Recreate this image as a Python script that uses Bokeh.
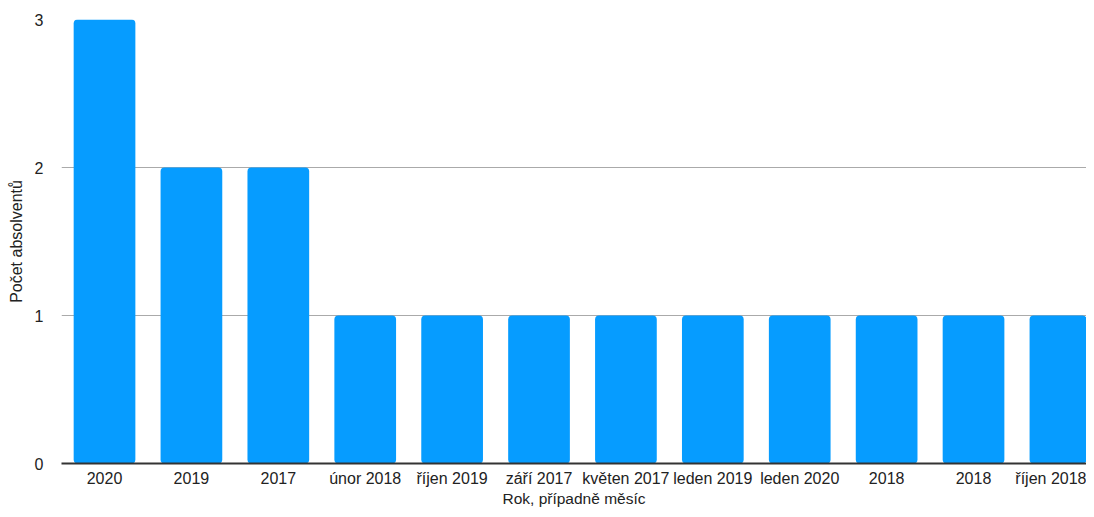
from bokeh.plotting import figure
from bokeh.models import Range1d, FixedTicker, ColumnDataSource
from bokeh.embed import file_html
from bokeh.resources import INLINE

categories = ["2020", "2019", "2017", "únor 2018", "říjen 2019", "září 2017",
              "květen 2017", "leden 2019", "leden 2020", "2018", "2018", "říjen 2018"]
counts = [3, 2, 2, 1, 1, 1, 1, 1, 1, 1, 1, 1]

positions = list(range(len(categories)))
src = ColumnDataSource(dict(x=positions, top=counts))

FONT = "Liberation Sans"

p = figure(width=1086, height=509, output_backend="svg", toolbar_location=None,
           x_range=Range1d(-0.495, 11.30), y_range=Range1d(0, 3),
           min_border_left=61, min_border_right=0, min_border_top=19, min_border_bottom=40)
p.outline_line_color = None

p.vbar(x="x", top="top", width=0.71, source=src, fill_color="#069CFF",
       line_color=None, border_radius=4)

# x axis
p.xaxis.ticker = FixedTicker(ticks=positions)
p.xaxis.major_label_overrides = {i: c for i, c in enumerate(categories)}
p.xaxis.axis_label = "Rok, případně měsíc"
p.xaxis.axis_line_color = "#333333"
p.xaxis.axis_line_width = 2
p.xaxis.major_tick_line_color = None
p.xaxis.minor_tick_line_color = None
p.xaxis.major_tick_out = 0
p.xaxis.major_tick_in = 0
p.xaxis.major_label_text_font = FONT
p.xaxis.major_label_text_font_size = "16px"
p.xaxis.major_label_text_color = "#222222"
p.xaxis.major_label_standoff = 6
p.xaxis.axis_label_text_font = FONT
p.xaxis.axis_label_text_font_size = "15.5px"
p.xaxis.axis_label_text_font_style = "normal"
p.xaxis.axis_label_text_color = "#222222"
p.xaxis.axis_label_standoff = 0

# y axis
p.yaxis.ticker = FixedTicker(ticks=[0, 1, 2, 3])
p.yaxis.axis_label = "Počet absolventů"
p.yaxis.axis_line_color = None
p.yaxis.major_tick_line_color = None
p.yaxis.minor_tick_line_color = None
p.yaxis.major_tick_out = 0
p.yaxis.major_tick_in = 0
p.yaxis.major_label_text_font = FONT
p.yaxis.major_label_text_font_size = "16px"
p.yaxis.major_label_text_color = "#222222"
p.yaxis.major_label_standoff = 18
p.yaxis.axis_label_text_font = FONT
p.yaxis.axis_label_text_font_size = "16px"
p.yaxis.axis_label_text_font_style = "normal"
p.yaxis.axis_label_text_color = "#222222"
p.yaxis.axis_label_standoff = 7

p.xgrid.grid_line_color = None
p.ygrid.grid_line_color = "#AAAAAA"
p.ygrid.grid_line_width = 1
p.ygrid.level = "underlay"

open("out.html", "w").write(file_html(p, INLINE))
